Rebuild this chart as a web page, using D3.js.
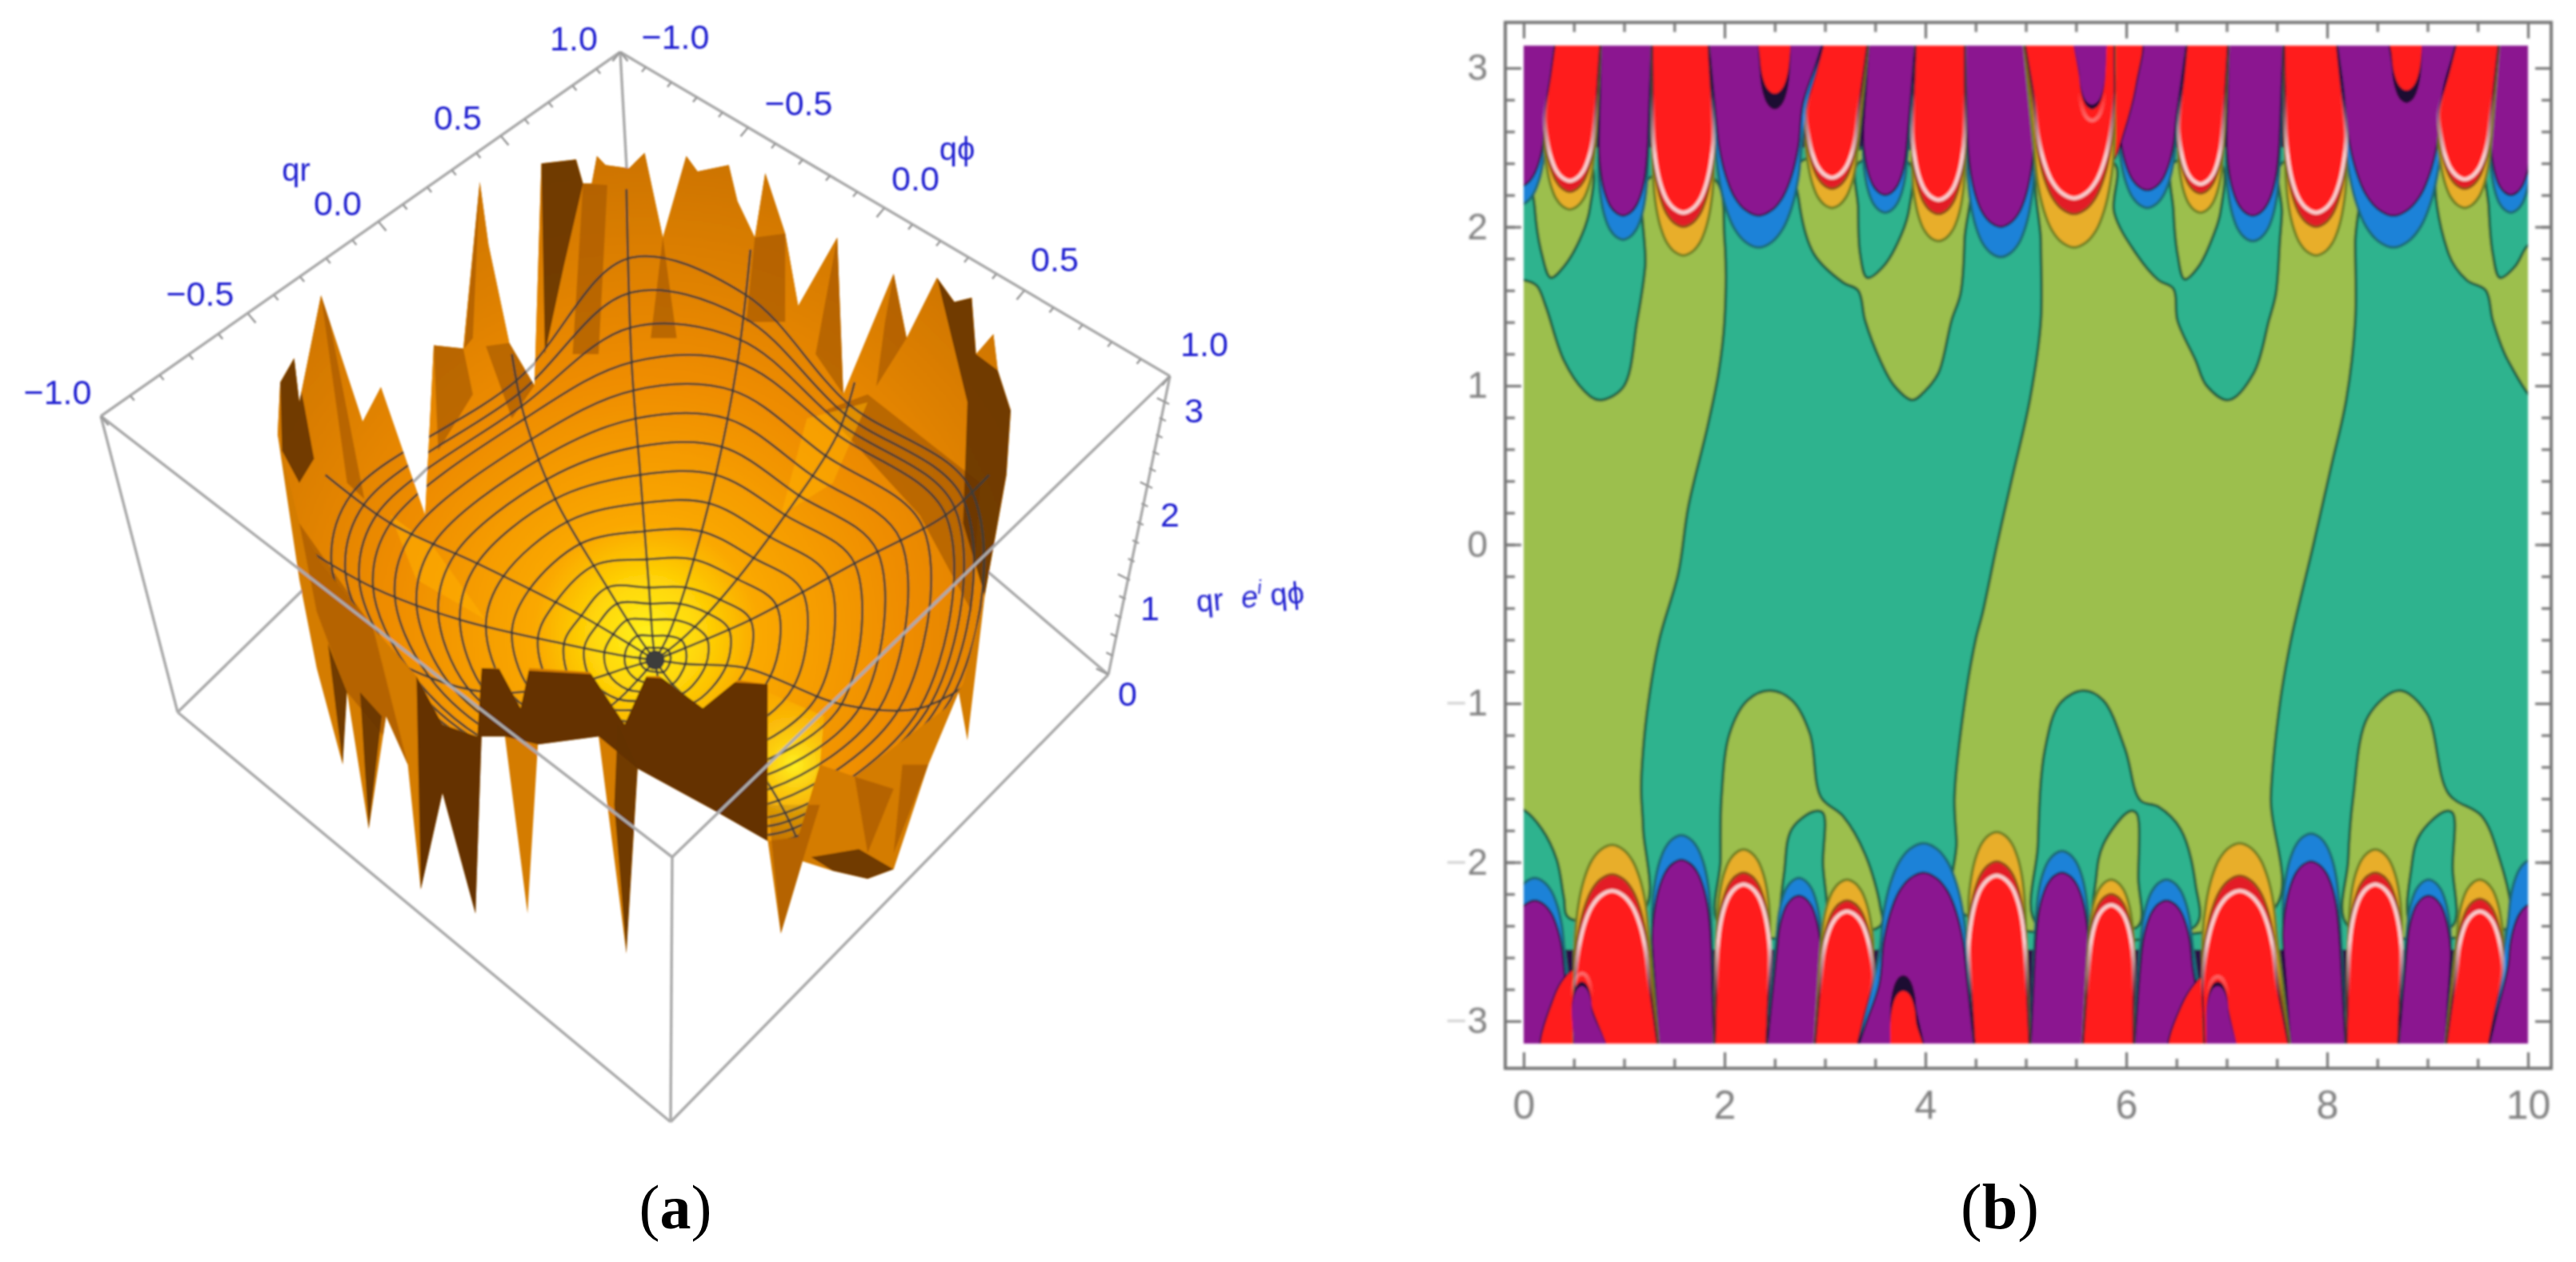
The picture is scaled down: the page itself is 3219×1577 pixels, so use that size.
<!DOCTYPE html>
<html>
<head>
<meta charset="utf-8">
<style>
  html, body { margin: 0; background: #fff; }
  svg { display: block; }
</style>
</head>
<body>
<svg id="chart" width="3219" height="1577"></svg>
<script src="https://cdn.jsdelivr.net/npm/d3@7"></script>
<script>
// ---------- panel (b) values, contour lobes in (x, y) data units ----------
// lobes: [centre x, half width, x left at edge, x right at edge, tips...]
const topPurple = [
  [-0.05, 0.27, -0.3, 0.33, 2.135, 2.25], [0.99, 0.24, 0.77, 1.28, 1.92, 2.07],
  [2.34, 0.44, 1.83, 3.02, 1.87, 2.07], [3.6, 0.22, 3.44, 3.91, 2.09, 2.2],
  [4.75, 0.33, 4.39, 4.97, 1.81, 2.0], [6.21, 0.29, 5.95, 6.62, 2.12, 2.23],
  [7.26, 0.26, 7.02, 7.57, 1.91, 2.07], [8.66, 0.5, 8.08, 9.32, 1.87, 2.07],
  [9.83, 0.2, 9.72, 10.1, 2.09, 2.2]
];
const topRed = [
  [0.46, 0.25, 0.33, 0.77, 2.11, 2.22, 2.29], [1.59, 0.3, 1.28, 1.83, 1.82, 2.0, 2.09],
  [3.07, 0.26, 3.02, 3.44, 2.12, 2.24, 2.31], [4.13, 0.26, 3.91, 4.39, 1.91, 2.08, 2.17],
  [5.48, 0.4, 4.97, 5.88, 1.87, 2.08, 2.18], [6.74, 0.22, 6.62, 7.02, 2.09, 2.21, 2.27],
  [7.89, 0.3, 7.57, 8.08, 1.82, 2.0, 2.09], [9.37, 0.26, 9.32, 9.72, 2.12, 2.24, 2.3]
];
const bottomPurple = [
  [0.11, 0.3, -0.2, 0.55, -2.1, -2.24], [1.57, 0.29, 1.35, 1.9, -1.83, -1.985],
  [2.74, 0.22, 2.41, 2.89, -2.1, -2.21], [3.98, 0.44, 3.29, 4.5, -1.88, -2.065],
  [5.36, 0.26, 5.04, 5.56, -1.93, -2.065], [6.4, 0.26, 6.07, 6.82, -2.11, -2.24],
  [7.84, 0.28, 7.64, 8.19, -1.82, -1.995], [9.01, 0.22, 8.7, 9.17, -2.11, -2.21],
  [10.05, 0.25, 9.58, 10.3, -1.98, -2.26]
];
const bottomRed = [
  [0.88, 0.37, 0.5, 1.35, -1.89, -2.075, -2.18], [2.19, 0.26, 1.9, 2.41, -1.92, -2.065, -2.14],
  [3.22, 0.26, 2.89, 3.29, -2.11, -2.24, -2.31], [4.71, 0.28, 4.5, 5.04, -1.81, -1.995, -2.085],
  [5.85, 0.22, 5.56, 6.07, -2.11, -2.2, -2.27], [7.13, 0.37, 6.78, 7.64, -1.88, -2.085, -2.18],
  [8.48, 0.26, 8.19, 8.7, -1.92, -2.065, -2.14], [9.52, 0.23, 9.17, 9.58, -2.11, -2.23, -2.31]
];
// red wings beside the notches, closed outlines
const redWings = [
  [[5.75,3.2],[6.14,3.2],[6.1,2.9],[5.98,2.6],[5.87,2.42],[5.78,2.67]],
  [[0.18,-3.2],[0.56,-3.2],[0.53,-2.72],[0.51,-2.67],[0.4,-2.73],[0.3,-2.85]],
  [[6.43,-3.2],[6.86,-3.2],[6.83,-2.74],[6.8,-2.7],[6.7,-2.75],[6.55,-2.9]]
];
// small drops: [centre x, half width, x left, x right, dark tip, fill tip]
const redDrops = [
  [2.5, 0.15, 2.32, 2.67, 2.74, 2.84], [8.79, 0.15, 8.59, 8.95, 2.78, 2.86],
  [3.78, 0.13, 3.65, 4.02, -2.71, -2.81]
];
const purpleNotches = [
  [5.66, 0.13, 5.45, 5.81, 2.67, 2.77], [0.58, 0.1, 0.51, 0.88, -2.7, -2.78],
  [6.91, 0.11, 6.8, 7.13, -2.72, -2.78]
];
const lobeU = [1, 0.9, 0.75, 0.55, 0.3, 0];
const lobeV = [1.6, 1, 0.58, 0.27, 0.08, 0];

const greenRegions = [
  [[-0.1,1.665],[0,1.665],[0.13,1.63],[0.22,1.5],[0.4,1.16],[0.6,0.97],[0.75,0.91],[0.99,0.99],[1.13,1.41],[1.21,1.75],[1.24,2.3],
   [1.9,2.3],[2,1.92],[2,1.41],[1.94,1.08],[1.83,0.74],[1.64,0.24],[1.54,-0.18],[1.35,-0.6],[1.24,-1],[1.19,-1.29],[1.17,-1.53],[1.19,-1.79],[1.2,-2.3],
   [0.45,-2.35],[0.4,-2.22],[0.33,-1.985],[0.18,-1.79],[0,-1.67],[-0.1,-1.65]],
  [[2.74,2.4],[2.74,2.17],[2.89,1.83],[3.18,1.65],[3.33,1.6],[3.4,1.41],[3.55,1.16],[3.69,1],[3.87,0.91],[4,0.97],[4.13,1.08],[4.26,1.41],[4.35,1.58],[4.39,1.92],[4.39,2.4]],
  [[5.15,2.4],[5.15,1.9],[5.15,1.41],[5.04,0.91],[4.86,0.41],[4.71,-0.01],[4.57,-0.43],[4.5,-0.6],[4.39,-1],[4.29,-1.59],[4.31,-1.87],[4.33,-2.3],
   [7.46,-2.3],[7.44,-1.59],[7.53,-1],[7.64,-0.6],[7.86,-0.01],[8.04,0.49],[8.19,0.91],[8.28,1.41],[8.28,1.9],[8.28,2.4],
   [7.55,2.4],[7.55,2.09],[7.53,1.92],[7.49,1.58],[7.42,1.41],[7.27,1.08],[7.02,0.91],[6.8,1],[6.69,1.16],[6.51,1.41],[6.47,1.61],[6.32,1.665],[6.1,1.83],[5.88,2.09],[5.88,2.4]],
  [[9.14,2.4],[9.21,1.83],[9.39,1.665],[9.58,1.6],[9.65,1.41],[9.8,1.16],[10.1,0.9],[10.1,2.4]],
  [[1.96,-2.4],[1.96,-1.985],[1.97,-1.59],[2.05,-1.19],[2.23,-0.98],[2.45,-0.92],[2.67,-0.98],[2.85,-1.19],[2.96,-1.59],[3.18,-1.71],[3.4,-1.95],[3.55,-2.28],[3.55,-2.4]],
  [[8.21,-2.4],[8.21,-1.985],[8.26,-1.59],[8.41,-1.08],[8.72,-0.92],[8.99,-1.06],[9.21,-1.57],[9.54,-1.71],[9.72,-1.985],[9.83,-2.28],[9.83,-2.4]]
];
const tealRegions = [
  [[3.33,2.4],[3.33,2.12],[3.35,1.83],[3.42,1.68],[3.58,1.75],[3.76,1.95],[3.84,2.12],[3.84,2.4]],
  [[9.61,2.4],[9.61,2.12],[9.65,1.83],[9.72,1.68],[9.87,1.75],[9.98,1.87],[10.1,1.95],[10.1,2.4]],
  [[5.12,-2.4],[5.12,-1.89],[5.19,-1.29],[5.34,-1],[5.57,-0.92],[5.77,-0.98],[5.99,-1.29],[6.14,-1.61],[6.32,-1.65],[6.54,-1.79],[6.69,-2.14],[6.69,-2.4]],
  [[2.6,-2.4],[2.6,-2.03],[2.67,-1.79],[2.89,-1.68],[2.98,-1.69],[2.98,-2],[2.98,-2.4]],
  [[8.84,-2.4],[8.84,-2.03],[8.92,-1.83],[9.17,-1.68],[9.25,-1.69],[9.25,-2.03],[9.25,-2.4]]
];
const greenIslands = [
  [[0.11,2.4],[0.11,2.12],[0.18,1.83],[0.27,1.68],[0.4,1.75],[0.58,1.95],[0.66,2.12],[0.66,2.4]],
  [[6.47,2.4],[6.47,2.1],[6.51,1.83],[6.58,1.67],[6.72,1.75],[6.87,1.95],[6.94,2.1],[6.94,2.4]],
  [[5.7,-2.4],[5.7,-2.1],[5.77,-1.89],[6.03,-1.68],[6.1,-1.69],[6.12,-2.1],[6.12,-2.4]]
];
const xTicksB = d3.range(0, 11, 2);
const xMinorB = d3.range(0, 10.01, 0.5);
const yTicksB = [-3, -2, -1, 0, 1, 2, 3];
const yMinorB = d3.range(-15, 16).map(d => d / 5);

// ---------- panel (a) values, surface traced in view units of the picture ----------
const rimBack = [[320,540],[323,475],[339,445],[345,500],[370,367],[418,524],[439,481],[490,640],[500,429],[534,433],[553,226],[563,304],[587,426],[616,479],
  [624,203],[664,198],[672,228],[682,228],[688,194],[698,205],[725,209],[743,190],[764,295],[791,194],[804,213],[840,205],[850,250],[870,295],[882,215],[905,290],[920,380],
  [965,295],[972,490],[1030,340],[1045,420],[1080,345],[1100,375],[1120,370],[1125,440],[1145,415],[1150,460],[1165,510]];
const rimFrontOuter = [[1160,590],[1135,740],[1115,920],[1105,860],[1070,950],[1030,1080],[1000,1092],[960,1082],[925,1070],[900,1160],[885,1045],[820,1005],[735,955],
  [722,1185],[690,915],[620,925],[608,1135],[582,915],[555,915],[548,1135],[510,985],[485,1105],[470,950],[445,890],[425,1030],[400,860],[395,950],[365,830],[345,720]];
const rimFrontInner = [[1160,590],[1135,740],[1110,850],[1090,880],[985,965],[945,950],[920,1040],[885,1045],[885,850],[850,845],[810,880],[760,840],[745,840],[720,900],
  [680,835],[610,830],[600,880],[575,830],[555,830],[550,915],[510,900],[480,840],[430,780],[370,700],[345,650]];
const frontBand = [[480,840],[510,900],[550,915],[555,830],[885,850],[885,1045],[820,1005],[735,955],[690,915],[620,925],[582,915],[555,915],[548,1135],[510,985],[485,1105]];
const darkFacets = [
  [[624,203],[664,198],[672,228],[650,330],[628,440]],
  [[339,445],[323,475],[325,560],[345,600],[362,570],[350,500]],
  [[1080,345],[1100,375],[1120,370],[1125,440],[1150,460],[1165,510],[1160,590],[1135,740],[1110,650],[1115,500]],
  [[1030,1080],[1000,1092],[960,1082],[935,1065],[990,1055]],
  [[722,1185],[735,955],[712,900],[708,1000]],
  [[395,950],[378,800],[400,860]],
  [[425,1030],[415,860],[440,890]]
];
const midFacets = [
  [[370,367],[380,400],[420,620],[400,600]],
  [[1030,340],[1045,420],[1010,480],[1020,400]],
  [[965,295],[972,490],[940,440]],
  [[985,965],[1000,1060],[1030,980]],
  [[1040,950],[1030,1060],[1070,950]],
  [[950,510],[1000,490],[1130,600],[1120,760],[1060,640]],
  [[900,1160],[925,1070],[945,1000],[885,1000]],
  [[500,429],[534,433],[545,490],[505,560]],
  [[587,426],[616,479],[590,520],[560,430]],
  [[345,650],[430,780],[470,950],[400,860],[365,760]],
  [[764,295],[750,420],[780,420]],
  [[870,295],[860,400],[905,400],[905,290]],
  [[672,228],[700,230],[690,440],[660,440]],
  [[553,226],[545,420],[535,433]]
];
const brightFacets = [
  [[450,640],[500,680],[560,770],[480,720]],
  [[930,520],[1000,500],[960,600],[900,640]]
];
const ringStops = [0, 2, 5, 9, 13, 18];
const rayPoints = [
  [[755,820],[752,790],[748,730],[738,590],[728,450],[722,235]],
  [[755,820],[770,790],[790,730],[825,590],[850,450],[865,310]],
  [[755,820],[785,795],[830,745],[905,640],[965,540],[985,475]],
  [[755,820],[790,805],[865,770],[985,700],[1090,640],[1140,590]],
  [[755,820],[790,825],[860,830],[970,875],[1060,880],[1130,840]],
  [[755,820],[775,850],[810,885],[870,950],[905,1010],[925,1060]],
  [[755,820],[760,850],[770,880],[790,960],[810,1010],[830,1060]],
  [[755,820],[735,845],[700,880],[630,910],[560,920],[480,900]],
  [[755,820],[722,830],[660,850],[560,860],[470,830],[385,770]],
  [[755,820],[720,815],[650,800],[530,770],[430,730],[350,680]],
  [[755,820],[725,800],[670,765],[550,700],[450,650],[375,590]],
  [[755,820],[735,790],[700,730],[640,620],[605,520],[590,440]]
];
const ringIds = d3.range(1, 17);
const edgeTicks = d3.range(-10, 11).map(d => d / 10);
const zTicks = d3.range(0, 16).map(d => d / 5);
const edgeLabelsLeft = [['\u22121.0',72,490],['\u22120.5',250,367],['0.0',422,254],['0.5',572,147],['1.0',717,48]];
const edgeLabelsRight = [['\u22121.0',844,46],['\u22120.5',998,129],['0.0',1144,223],['0.5',1318,324],['1.0',1505,430]];
const zLabels = [['3',1492,513],['2',1462,643],['1',1437,760],['0',1409,867]];

// ---------- layout ----------
const chart = d3.select('#chart');
const defs = chart.append('defs');
function blur(id, s) {
  defs.append('filter').attr('id', id).attr('filterUnits', 'userSpaceOnUse')
    .attr('x', 0).attr('y', 0).attr('width', 3219).attr('height', 1577)
    .append('feGaussianBlur').attr('stdDeviation', s);
}
blur('softA', 1.3);
blur('softB', 1.4);

// ---------- panel (a) ----------
const viewX = d3.scaleLinear().domain([0, 1568]).range([0, 1700]);
const viewY = d3.scaleLinear().domain([0, 1568]).range([0, 1577]);
const viewPath = d3.line().x(d => viewX(d[0])).y(d => viewY(d[1])).curve(d3.curveLinearClosed);
const viewCurve = d3.line().x(d => viewX(d[0])).y(d => viewY(d[1])).curve(d3.curveCatmullRomClosed.alpha(0.5));

const grad = defs.append('radialGradient').attr('id', 'bowl').attr('gradientUnits', 'userSpaceOnUse')
  .attr('cx', viewX(745)).attr('cy', viewY(790)).attr('r', 640);
[[0, '#fff01e'], [0.1, '#ffd808'], [0.22, '#faa800'], [0.5, '#ef8d00'], [1, '#c87000']].forEach(s => {
  grad.append('stop').attr('offset', s[0]).attr('stop-color', s[1]);
});
const glow = defs.append('radialGradient').attr('id', 'glow').attr('gradientUnits', 'userSpaceOnUse')
  .attr('cx', viewX(915)).attr('cy', viewY(950)).attr('r', 110);
glow.append('stop').attr('offset', 0).attr('stop-color', '#fff020').attr('stop-opacity', 1);
glow.append('stop').attr('offset', 1).attr('stop-color', '#ffc000').attr('stop-opacity', 0);
defs.append('clipPath').attr('id', 'bowlClip').append('path')
  .attr('d', viewPath(rimBack.concat(rimFrontInner)));
defs.append('clipPath').attr('id', 'wallClip').append('path')
  .attr('d', viewPath(rimBack.concat(rimFrontOuter)));

const a = chart.append('g').attr('filter', 'url(#softA)');

// box corners, full picture px
const T = [775, 65], L = [126, 520], R = [1462, 470], F = [840, 1071];
const Lb = [222, 890], Rb = [1385, 843], Fb = [838, 1402], Bb = [790, 335];
function boxLines(list) {
  a.selectAll(null).data(list).enter().append('line')
    .attr('x1', d => d[0][0]).attr('y1', d => d[0][1])
    .attr('x2', d => d[1][0]).attr('y2', d => d[1][1])
    .attr('stroke', '#ababab').attr('stroke-width', 3.5);
}
boxLines([[T, Bb], [Lb, Bb], [Rb, Bb], [L, T], [T, R], [L, Lb], [R, Rb], [F, Fb], [Lb, Fb], [Rb, Fb]]);

a.append('path').attr('d', viewPath(rimBack.concat(rimFrontOuter))).attr('fill', '#d47c00');
a.append('path').attr('d', viewPath(frontBand)).attr('fill', '#653300');
a.append('path').attr('d', viewPath(rimBack.concat(rimFrontInner))).attr('fill', 'url(#bowl)');
const walls = a.append('g').attr('clip-path', 'url(#wallClip)');
walls.selectAll('.mid').data(midFacets).enter().append('path').attr('class', 'mid')
  .attr('d', viewPath).attr('fill', '#a85a00').attr('opacity', 0.7);
walls.selectAll('.dark').data(darkFacets).enter().append('path').attr('class', 'dark')
  .attr('d', viewPath).attr('fill', '#633200').attr('opacity', 0.88);
walls.selectAll('.lit').data(brightFacets).enter().append('path').attr('class', 'lit')
  .attr('d', viewPath).attr('fill', '#ffb000').attr('opacity', 0.55);
a.append('path').attr('d', viewPath([[885,860],[950,890],[945,950],[920,1040],[885,1045]])).attr('fill', 'url(#glow)');

// mesh, rings interpolated along the traced rays
const rayX = rayPoints.map(r => d3.scaleLinear().domain(ringStops).range(r.map(p => p[0])));
const rayY = rayPoints.map(r => d3.scaleLinear().domain(ringStops).range(r.map(p => p[1])));
const mesh = a.append('g').attr('clip-path', 'url(#bowlClip)').attr('fill', 'none')
  .attr('stroke', '#3c3c38').attr('stroke-width', 2.8).attr('stroke-opacity', 0.9);
mesh.selectAll('.ring').data(ringIds).enter().append('path').attr('class', 'ring')
  .attr('d', k => viewCurve(rayPoints.map((r, i) => [rayX[i](k), rayY[i](k)])));
mesh.selectAll('.ray').data(rayPoints).enter().append('path').attr('class', 'ray')
  .attr('d', d3.line().x(d => viewX(d[0])).y(d => viewY(d[1])).curve(d3.curveCatmullRom));
a.append('circle').attr('cx', viewX(755)).attr('cy', viewY(820)).attr('r', 12).attr('fill', '#3d3c3a');

boxLines([[L, F], [R, F]]);

// edge ticks
const qrX = d3.scaleLinear().domain([-1, -0.5, 0, 0.5, 1]).range([126, 310, 473, 626, 775]);
const qrY = d3.scaleLinear().domain([-1, -0.5, 0, 0.5, 1]).range([520, 392, 277, 170, 65]);
const qpX = d3.scaleLinear().domain([-1, -0.5, 0, 0.5, 1]).range([775, 935, 1105, 1280, 1462]);
const qpY = d3.scaleLinear().domain([-1, -0.5, 0, 0.5, 1]).range([65, 159, 260, 363, 470]);
const zX = d3.scaleLinear().domain([0, 1, 2, 3]).range([1385, 1412, 1440, 1461]);
const zY = d3.scaleLinear().domain([0, 1, 2, 3]).range([843, 725, 610, 505]);
const isMajor = (d, step) => Math.abs(d / step - Math.round(d / step)) < 1e-6;
function tickLines(cls, data, fx, fy, dx, dy, step) {
  a.selectAll('.' + cls).data(data).enter().append('line').attr('class', cls)
    .attr('x1', d => fx(d)).attr('y1', d => fy(d))
    .attr('x2', d => fx(d) + dx * (isMajor(d, step) ? 1.9 : 1))
    .attr('y2', d => fy(d) + dy * (isMajor(d, step) ? 1.9 : 1))
    .attr('stroke', '#9a9a9a').attr('stroke-width', 2.5);
}
tickLines('tq', edgeTicks, qrX, qrY, 5, 6, 0.5);
tickLines('tp', edgeTicks, qpX, qpY, -5, 6, 0.5);
tickLines('tz', zTicks, zX, zY, -8, -4, 1);

const blue = '#2020d0';
const blueText = a.append('g').attr('fill', blue)
  .attr('font-family', 'Liberation Sans, Arial, sans-serif').attr('font-size', 43).attr('text-anchor', 'middle');
blueText.selectAll(null).data(edgeLabelsLeft.concat(edgeLabelsRight, zLabels)).enter().append('text')
  .attr('x', d => d[1]).attr('y', d => d[2] + 15).text(d => d[0]);
blueText.append('text').attr('x', 370).attr('y', 226).attr('font-size', 40).text('qr');
blueText.append('text').attr('x', 1196).attr('y', 200).attr('font-size', 40).text('q\u03d5');
const zName = blueText.append('text').attr('transform', 'translate(1496,765) rotate(-5)')
  .attr('text-anchor', 'start').attr('font-size', 38);
zName.append('tspan').text('qr ');
zName.append('tspan').attr('dx', 12).attr('font-style', 'italic').text('e');
zName.append('tspan').attr('dy', -16).attr('font-size', 24).attr('font-style', 'italic').text('i');
zName.append('tspan').attr('dy', 16).attr('dx', 10).text('q\u03d5');

// ---------- panel (b) ----------
const xB = d3.scaleLinear().domain([0, 10]).range([1904, 3159]);
const yB = d3.scaleLinear().domain([-3, 3]).range([1276, 85]);
const frameB = { left: 1881, right: 3188, top: 28, bottom: 1335 };
const topY = Math.PI, botY = -Math.PI;

defs.append('clipPath').attr('id', 'plotB').append('rect')
  .attr('x', xB(0)).attr('y', yB(topY)).attr('width', xB(10) - xB(0)).attr('height', yB(botY) - yB(topY));
function fade(id, y1, y2) {
  const g = defs.append('linearGradient').attr('id', id).attr('gradientUnits', 'userSpaceOnUse')
    .attr('x1', 0).attr('x2', 0).attr('y1', yB(y1)).attr('y2', yB(y2));
  g.append('stop').attr('offset', 0).attr('stop-color', '#f9cfcf').attr('stop-opacity', 0);
  g.append('stop').attr('offset', 1).attr('stop-color', '#f9cfcf').attr('stop-opacity', 1);
}
fade('pinkTop', 2.85, 2.45);
fade('pinkBottom', -2.85, -2.5);
const pinkStroke = dir => (dir > 0 ? 'url(#pinkTop)' : 'url(#pinkBottom)');

const b = chart.append('g').attr('filter', 'url(#softB)');
const plot = b.append('g').attr('clip-path', 'url(#plotB)');
const region = d3.line().x(d => xB(d[0])).y(d => yB(d[1])).curve(d3.curveCatmullRomClosed.alpha(0.5));
const lobeLine = d3.line().x(d => xB(d[0])).y(d => yB(d[1])).curve(d3.curveCatmullRom.alpha(0.5));

// one U shaped outline, opening to the top (dir 1) or the bottom (dir -1)
function lobeOutline(row, tip, dir) {
  const c = row[0], hw = row[1], xl = row[2], xr = row[3];
  const edge = dir * topY * 1.03;
  const shoulder = tip + dir * lobeV[0] * hw;
  const left = [[xl, edge], [(xl + c - hw) / 2, (edge + shoulder) / 2]];
  lobeU.forEach((u, i) => left.push([c - u * hw, tip + dir * lobeV[i] * hw]));
  const right = [];
  lobeU.slice(0, 5).forEach((u, i) => right.unshift([c + u * hw, tip + dir * lobeV[i] * hw]));
  right.push([(xr + c + hw) / 2, (edge + shoulder) / 2], [xr, edge]);
  return left.concat(right);
}

plot.append('rect').attr('x', xB(0)).attr('y', yB(topY)).attr('width', xB(10) - xB(0))
  .attr('height', yB(botY) - yB(topY)).attr('fill', '#2db38e');
const contour = '#1f5f3f';
function regions(list, fill) {
  plot.selectAll(null).data(list).enter().append('path').attr('d', region)
    .attr('fill', fill).attr('stroke', contour).attr('stroke-width', 3.5);
}
regions(greenRegions, '#9cbf4e');
regions(tealRegions, '#2db38e');
regions(greenIslands, '#9cbf4e');

// dark bed where the columns touch each other
plot.append('rect').attr('x', xB(0)).attr('y', yB(topY)).attr('width', xB(10) - xB(0))
  .attr('height', yB(2.5) - yB(topY)).attr('fill', '#2a0f45');
plot.append('rect').attr('x', xB(0)).attr('y', yB(-2.55)).attr('width', xB(10) - xB(0))
  .attr('height', yB(botY) - yB(-2.55)).attr('fill', '#2a0f45');

function lobe(row, tip, dir, fill, stroke, width) {
  plot.append('path').attr('d', lobeLine(lobeOutline(row, tip, dir)))
    .attr('fill', fill).attr('stroke', stroke).attr('stroke-width', width);
}
function purpleLobes(rows, dir) {
  rows.forEach(r => {
    lobe(r, r[4], dir, '#1e82d8', '#1b6a74', 3.5);
    lobe(r, r[5], dir, '#8b1490', '#1a1040', 2.5);
  });
}
function redLobes(rows, dir) {
  rows.forEach(r => {
    lobe(r, r[4], dir, '#e8ae2c', '#6f7f22', 3.5);
    lobe(r, r[5], dir, '#e31e28', '#8a4a16', 3);
    lobe(r, r[6], dir, '#ff1e1e', '#21103a', 2);
    lobe(r, r[6], dir, 'none', pinkStroke(dir), 4.5);
  });
}
purpleLobes(topPurple, 1);
purpleLobes(bottomPurple, -1);
plot.selectAll('.wing').data(redWings).enter().append('path').attr('class', 'wing')
  .attr('d', region).attr('fill', '#ff1e1e').attr('stroke', '#21103a').attr('stroke-width', 2);
redLobes(topRed, 1);
redLobes(bottomRed, -1);
redDrops.forEach(r => {
  const dir = r[4] > 0 ? 1 : -1;
  lobe(r, r[4], dir, '#1a1030', 'none', 0);
  lobe(r, r[5], dir, '#ff1e1e', 'none', 0);
});
purpleNotches.forEach(r => {
  const dir = r[4] > 0 ? 1 : -1;
  lobe(r, r[4], dir, 'none', pinkStroke(dir), 4.5);
  lobe(r, r[5] - dir * 0.03, dir, '#1a1030', 'none', 0);
  lobe(r, r[5], dir, '#8b1490', 'none', 0);
});

// frame and axes
const grey = '#808080';
function minusText(sel) {
  sel.selectAll('text').each(function () {
    const t = d3.select(this), s = t.text();
    if (s[0] === '\u2212') {
      t.text('');
      t.append('tspan').attr('fill', '#d4d4d4').text('\u2212');
      t.append('tspan').text(s.slice(1));
    }
  });
}
function styleAxis(sel) {
  sel.select('.domain').remove();
  sel.selectAll('line').attr('stroke', '#6e6e6e').attr('stroke-width', 3);
  sel.selectAll('text').attr('fill', grey).attr('font-family', 'Liberation Sans, Arial, sans-serif');
}
function xAxis(y, maker, values, size, labels) {
  const ax = maker(xB).tickValues(values).tickSizeInner(size).tickSizeOuter(0);
  if (!labels) ax.tickFormat('');
  const g = b.append('g').attr('transform', 'translate(0,' + y + ')').call(ax).attr('font-size', 50);
  styleAxis(g);
  if (labels) g.selectAll('text').attr('y', 47).attr('dy', 0.32 * 50);
}
function yAxis(x, maker, values, size, labels) {
  const ax = maker(yB).tickValues(values).tickSizeInner(size).tickSizeOuter(0);
  if (labels) ax.tickFormat(d => (d < 0 ? '\u2212' + (-d) : d)); else ax.tickFormat('');
  const g = b.append('g').attr('transform', 'translate(' + x + ',0)').call(ax).attr('font-size', 46);
  styleAxis(g);
  if (labels) { g.selectAll('text').attr('x', -22); minusText(g); }
}
xAxis(frameB.bottom, d3.axisBottom, xMinorB, -12, false);
xAxis(frameB.bottom, d3.axisBottom, xTicksB, -20, true);
xAxis(frameB.top, d3.axisTop, xMinorB, -12, false);
xAxis(frameB.top, d3.axisTop, xTicksB, -20, false);
yAxis(frameB.left, d3.axisLeft, yMinorB, -12, false);
yAxis(frameB.left, d3.axisLeft, yTicksB, -20, true);
yAxis(frameB.right, d3.axisRight, yMinorB, -12, false);
yAxis(frameB.right, d3.axisRight, yTicksB, -20, false);
b.append('rect').attr('x', frameB.left).attr('y', frameB.top)
  .attr('width', frameB.right - frameB.left).attr('height', frameB.bottom - frameB.top)
  .attr('fill', 'none').attr('stroke', '#777').attr('stroke-width', 4);

// captions
function caption(cx, letter, size) {
  const t = chart.append('text').attr('x', cx).attr('y', 1535).attr('text-anchor', 'middle')
    .attr('font-family', 'Liberation Serif, Times New Roman, serif').attr('font-size', size).attr('fill', '#000');
  t.append('tspan').text('(');
  t.append('tspan').attr('font-weight', 'bold').text(letter);
  t.append('tspan').text(')');
}
caption(844, 'a', 78);
caption(2499, 'b', 80);
</script>
</body>
</html>
